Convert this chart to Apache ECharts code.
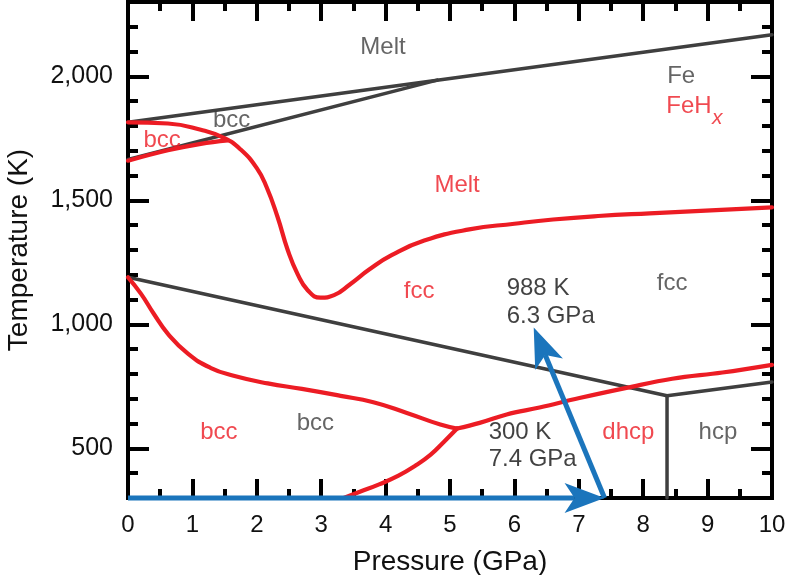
<!DOCTYPE html>
<html><head><meta charset="utf-8">
<script src="https://cdn.jsdelivr.net/npm/echarts@6/dist/echarts.min.js"></script>
<style>html,body{margin:0;padding:0;background:#fff}#c{width:788px;height:575px}</style>
</head><body><div id="c"></div>
<script>
// ---- tick values ----
const xTicks = [0,1,2,3,4,5,6,7,8,9,10];
const yMajorTicks = [500,1000,1500,2000];
const yMinorTicks = [400,600,700,800,900,1100,1200,1300,1400,1600,1700,1800,1900,2100,2200];

// ---- Fe phase boundaries (grey) ----
const feMeltP = [0, 10];          const feMeltT = [1815, 2168];
const feDeltaP = [0, 4.8];        const feDeltaT = [1665, 1985];
const feAlphaGammaP = [0, 8.37];  const feAlphaGammaT = [1190, 712];
const feGammaEpsP = [8.37, 10];   const feGammaEpsT = [712, 768];
const feAlphaEpsP = [8.37, 8.37]; const feAlphaEpsT = [712, 300];

// ---- FeHx phase boundaries (red) ----
const fhMeltP = [0, 0.62, 1.13, 1.49, 1.75, 2.0, 2.15, 2.32, 2.48, 2.63, 2.79, 2.99, 3.2, 3.45, 3.75, 4.1, 4.6, 5.3, 6.0, 6.6, 7.3, 8.1, 10];
const fhMeltT = [1815, 1810, 1785, 1752, 1705, 1630, 1555, 1435, 1300, 1205, 1138, 1108, 1118, 1162, 1222, 1280, 1338, 1383, 1406, 1423, 1437, 1448, 1472];
const fhDeltaP = [0, 0.62, 1.13, 1.55];
const fhDeltaT = [1660, 1702, 1728, 1742];
const fhBccFccP = [0, 0.2, 0.4, 0.62, 0.93, 1.28, 1.64, 2.17, 2.7, 3.3, 3.81, 4.33, 4.85, 5.11];
const fhBccFccT = [1190, 1124, 1043, 962, 882, 825, 793, 762, 740, 712, 686, 643, 596, 580];
const fhBccDhcpP = [3.35, 3.6, 3.9, 4.2, 4.45, 4.7, 4.9, 5.11];
const fhBccDhcpT = [300, 325, 355, 390, 428, 475, 525, 580];
const fhDhcpFccP = [5.11, 5.46, 5.88, 6.39, 7.01, 7.74, 8.45, 9.23, 10];
const fhDhcpFccT = [580, 603, 637, 665, 703, 744, 781, 806, 837];

// ---- experiment path arrows ----
const arrowFromP = [0, 7.4];
const arrowFromT = [300, 300];
const arrowToP = [7.4, 6.3];
const arrowToT = [300, 988];

// ---- annotations ----
const labelTexts = ['Melt','Fe','FeH','x','bcc','bcc','Melt','fcc','988 K','6.3 GPa','fcc','bcc','bcc','300 K','7.4 GPa','dhcp','hcp'];
const labelP =     [3.96, 8.59, 8.71, 9.15, 0.53, 1.61, 5.11, 4.52, 5.88, 5.88, 8.45, 1.41, 2.91, 5.60, 5.60, 7.77, 9.16];
const labelT =     [2118, 2001, 1880, 1833, 1742, 1823, 1561, 1132, 1144, 1031, 1165, 563, 599, 563, 454, 563, 563];
const labelKind =  ['fe','fe','fh','fhi','fh','fe','fh','fh','note','note','fe','fh','fe','note','note','fh','fe'];

const FONT = '"Liberation Sans", Arial, Helvetica, sans-serif';
const GREY = '#3f3f3f', RED = '#ec1c24', BLUE = '#1b75bc';

const zip = (a, b) => a.map((v, i) => [v, b[i]]);
function lineSeries(P, T, color, width, smooth) {
  return { type: 'line', data: zip(P, T), showSymbol: false, symbol: 'none', smooth: smooth || false,
    lineStyle: { color: color, width: width, cap: 'round', join: 'round' }, z: color === RED ? 4 : 3, silent: true };
}

const kindStyle = {
  fe: { color: GREY, align: 'center', fontStyle: 'normal', fontSize: 24 },
  fh: { color: RED, align: 'center', fontStyle: 'normal', fontSize: 24 },
  fhi: { color: RED, align: 'center', fontStyle: 'italic', fontSize: 21 },
  note: { color: '#111', align: 'left', fontStyle: 'normal', fontSize: 24 }
};
const labelData = labelTexts.map((t, i) => {
  const s = kindStyle[labelKind[i]];
  return { value: [labelP[i], labelT[i]], label: { show: true, position: 'inside', formatter: t, color: s.color,
    align: s.align, verticalAlign: 'middle', fontSize: s.fontSize, fontStyle: s.fontStyle, fontFamily: FONT } };
});

const arrowData = arrowFromP.map((p, i) => [p, arrowFromT[i], arrowToP[i], arrowToT[i]]);

const tickStyle = { color: '#000', width: 4 };
function xAx(pos, labels) {
  return { type: 'value', min: 0, max: 10, interval: 1, position: pos,
    axisLine: { show: false }, splitLine: { show: false },
    axisTick: { show: true, inside: true, length: 19, lineStyle: tickStyle },
    minorTick: { show: true, splitNumber: 2, length: 9, lineStyle: tickStyle },
    axisLabel: { show: labels, fontSize: 24, color: '#111', margin: 15, fontFamily: FONT },
    name: labels ? 'Pressure (GPa)' : '', nameLocation: 'middle', nameGap: 50,
    nameTextStyle: { fontSize: 28, color: '#111', fontFamily: FONT } };
}
function yAx(pos, major, labels) {
  return { type: 'value', min: 300, max: 2300, interval: 100, position: pos,
    axisLine: { show: false }, splitLine: { show: false },
    axisTick: { show: true, inside: true, length: major ? 21 : 10, lineStyle: tickStyle,
      customValues: major ? yMajorTicks : yMinorTicks },
    axisLabel: { show: labels, customValues: yMajorTicks, fontSize: 25, color: '#111', margin: 15, fontFamily: FONT,
      formatter: v => Number(v).toLocaleString('en-US') },
    name: labels ? 'Temperature (K)' : '', nameLocation: 'middle', nameGap: 95,
    nameTextStyle: { fontSize: 28, color: '#111', fontFamily: FONT } };
}

const chart = echarts.init(document.getElementById('c'), null, { renderer: 'canvas' });
chart.setOption({
  animation: false,
  backgroundColor: '#fff',
  grid: { left: 128, right: 16, top: 2, bottom: 77, containLabel: false, outerBoundsMode: 'none',
    show: true, borderColor: '#000', borderWidth: 4, backgroundColor: 'transparent' },
  xAxis: [xAx('bottom', true), xAx('top', false)],
  yAxis: [yAx('left', true, true), yAx('left', false, false), yAx('right', true, false), yAx('right', false, false)],
  series: [
    lineSeries(feMeltP, feMeltT, GREY, 3.5),
    lineSeries(feDeltaP, feDeltaT, GREY, 3.5),
    lineSeries(feAlphaGammaP, feAlphaGammaT, GREY, 3.5),
    lineSeries(feGammaEpsP, feGammaEpsT, GREY, 3.5),
    lineSeries(feAlphaEpsP, feAlphaEpsT, GREY, 3.5),
    lineSeries(fhMeltP, fhMeltT, RED, 4.2, 0.5),
    lineSeries(fhDeltaP, fhDeltaT, RED, 4.2, 0.4),
    lineSeries(fhBccFccP, fhBccFccT, RED, 4.2, 0.5),
    lineSeries(fhBccDhcpP, fhBccDhcpT, RED, 4.2, 0.5),
    lineSeries(fhDhcpFccP, fhDhcpFccT, RED, 4.2, 0.4),
    {
      type: 'custom', clip: false, z: 6, silent: true,
      data: arrowData,
      encode: { x: [0, 2], y: [1, 3] },
      renderItem: function (params, api) {
        const p1 = api.coord([api.value(0), api.value(1)]);
        const p2 = api.coord([api.value(2), api.value(3)]);
        const dx = p2[0] - p1[0], dy = p2[1] - p1[1];
        const L = Math.hypot(dx, dy), ux = dx / L, uy = dy / L, nx = -uy, ny = ux;
        const headLen = 40, headW = 15, notch = 10;
        const bx = p2[0] - ux * headLen, by = p2[1] - uy * headLen;
        const mx = p2[0] - ux * (headLen - notch), my = p2[1] - uy * (headLen - notch);
        return { type: 'group', children: [
          { type: 'line', shape: { x1: p1[0], y1: p1[1], x2: mx, y2: my }, style: { stroke: BLUE, lineWidth: 5 } },
          { type: 'polygon', shape: { points: [p2, [bx + nx * headW, by + ny * headW], [mx, my], [bx - nx * headW, by - ny * headW]] },
            style: { fill: BLUE } }
        ] };
      }
    },
    {
      type: 'scatter', symbolSize: 0, z: 7, silent: true, data: labelData
    }
  ]
});
</script></body></html>
